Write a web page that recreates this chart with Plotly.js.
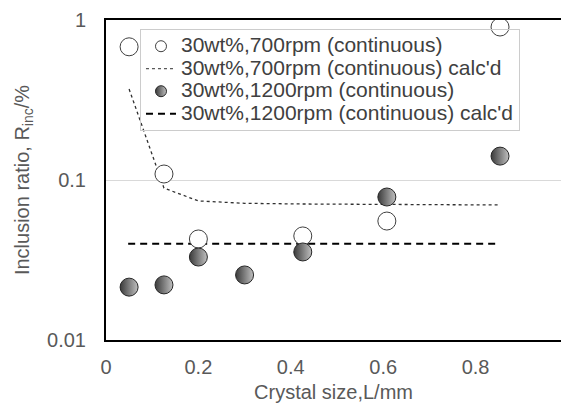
<!DOCTYPE html>
<html>
<head>
<meta charset="utf-8">
<script src="https://cdn.plot.ly/plotly-3.0.1.min.js"></script>
<style>html,body{margin:0;padding:0;background:#fff;}#chart{width:561px;height:403px;}</style>
</head>
<body>
<div id="chart"></div>
<script>
// Data
var size700 = [0.050, 0.1255, 0.200, 0.426, 0.608, 0.853];
var ratio700 = [0.68, 0.109, 0.0428, 0.0447, 0.0554, 0.904];

var calcSize700 = [0.050, 0.1255, 0.200, 0.300, 0.426, 0.608, 0.853];
var calcRatio700 = [0.37, 0.089, 0.074, 0.0715, 0.0708, 0.0702, 0.0698];

var size1200 = [0.050, 0.1255, 0.200, 0.300, 0.426, 0.608, 0.853];
var ratio1200 = [0.0214, 0.0221, 0.033, 0.0255, 0.0355, 0.0783, 0.141];

var calcSize1200 = [0.048, 0.853];
var calcRatio1200 = [0.040, 0.040];

var names = [
  '30wt%,700rpm (continuous)',
  "30wt%,700rpm (continuous) calc'd",
  '30wt%,1200rpm (continuous)',
  "30wt%,1200rpm (continuous) calc'd"
];
var xTickVals = [0, 0.2, 0.4, 0.6, 0.8];
var xTickText = ['0', '0.2', '0.4', '0.6', '0.8'];
var yTickVals = [0.01, 0.1, 1];
var yTickText = ['0.01', '0.1', '1'];

var FONT = 'Liberation Sans, Arial, sans-serif';

function legendName(s) { return '<span style="font-size:21px">' + s + '</span>'; }

var openMarker = {symbol: 'circle', color: '#ffffff', line: {color: '#404040', width: 1}};
var filledMarker = {symbol: 'circle', color: '#3a3a3a',
                    gradient: {type: 'horizontal', color: '#c0c0c0'},
                    line: {color: '#262626', width: 1}};
var dotLine = {color: '#303030', width: 1.3, dash: 'dot'};
var dashLine = {color: '#000000', width: 2, dash: '7px,5px'};

var traces = [
  // plotted data (legend entries drawn by the legend-only traces below)
  {x: calcSize700, y: calcRatio700, type: 'scatter', mode: 'lines', showlegend: false, line: dotLine},
  {x: calcSize1200, y: calcRatio1200, type: 'scatter', mode: 'lines', showlegend: false, line: dashLine},
  {x: size700, y: ratio700, type: 'scatter', mode: 'markers', showlegend: false,
   marker: Object.assign({size: 18}, openMarker)},
  {x: size1200, y: ratio1200, type: 'scatter', mode: 'markers', showlegend: false,
   marker: Object.assign({size: 18}, filledMarker)},
  // legend entries
  {x: [null], y: [null], name: legendName(names[0]), type: 'scatter', mode: 'markers',
   marker: Object.assign({size: 11}, openMarker)},
  {x: [null], y: [null], name: legendName(names[1]), type: 'scatter', mode: 'lines', line: {color: '#303030', width: 1, dash: 'dot'}},
  {x: [null], y: [null], name: legendName(names[2]), type: 'scatter', mode: 'markers',
   marker: Object.assign({size: 11}, filledMarker)},
  {x: [null], y: [null], name: legendName(names[3]), type: 'scatter', mode: 'lines', line: dashLine}
];

var layout = {
  width: 561, height: 403,
  margin: {l: 106, r: 0, t: 20, b: 63, pad: 0},
  paper_bgcolor: '#ffffff', plot_bgcolor: '#ffffff',
  font: {family: FONT, size: 20, color: '#595959'},
  showlegend: true,
  legend: {
    x: 0.0747, y: 0.972, xanchor: 'left', yanchor: 'top',
    bgcolor: 'rgba(255,255,255,0)', bordercolor: '#cccccc', borderwidth: 1,
    font: {family: FONT, size: 15, color: '#404040'},
    tracegroupgap: 0, traceorder: 'normal'
  },
  xaxis: {
    range: [0, 0.985], tickvals: xTickVals, ticktext: xTickText,
    showgrid: false, zeroline: false,
    showline: true, linecolor: '#000000', linewidth: 2, mirror: true,
    ticks: '', ticklabelstandoff: 8,
    tickfont: {family: FONT, size: 20, color: '#595959'},
    title: {text: 'Crystal size,L/mm', font: {family: FONT, size: 20, color: '#595959'}, standoff: 9}
  },
  yaxis: {
    type: 'log', range: [-2, 0], tickvals: yTickVals, ticktext: yTickText,
    showgrid: true, gridcolor: '#d9d9d9', gridwidth: 1, zeroline: false,
    showline: true, linecolor: '#000000', linewidth: 2,
    ticks: '', ticklabelstandoff: 14,
    tickfont: {family: FONT, size: 20, color: '#595959'},
    title: {text: 'Inclusion ratio, R<sub>inc</sub>/%', font: {family: FONT, size: 20, color: '#595959'}, standoff: 12}
  }
};

Plotly.newPlot('chart', traces, layout, {displayModeBar: false, staticPlot: true});
</script>
</body>
</html>
